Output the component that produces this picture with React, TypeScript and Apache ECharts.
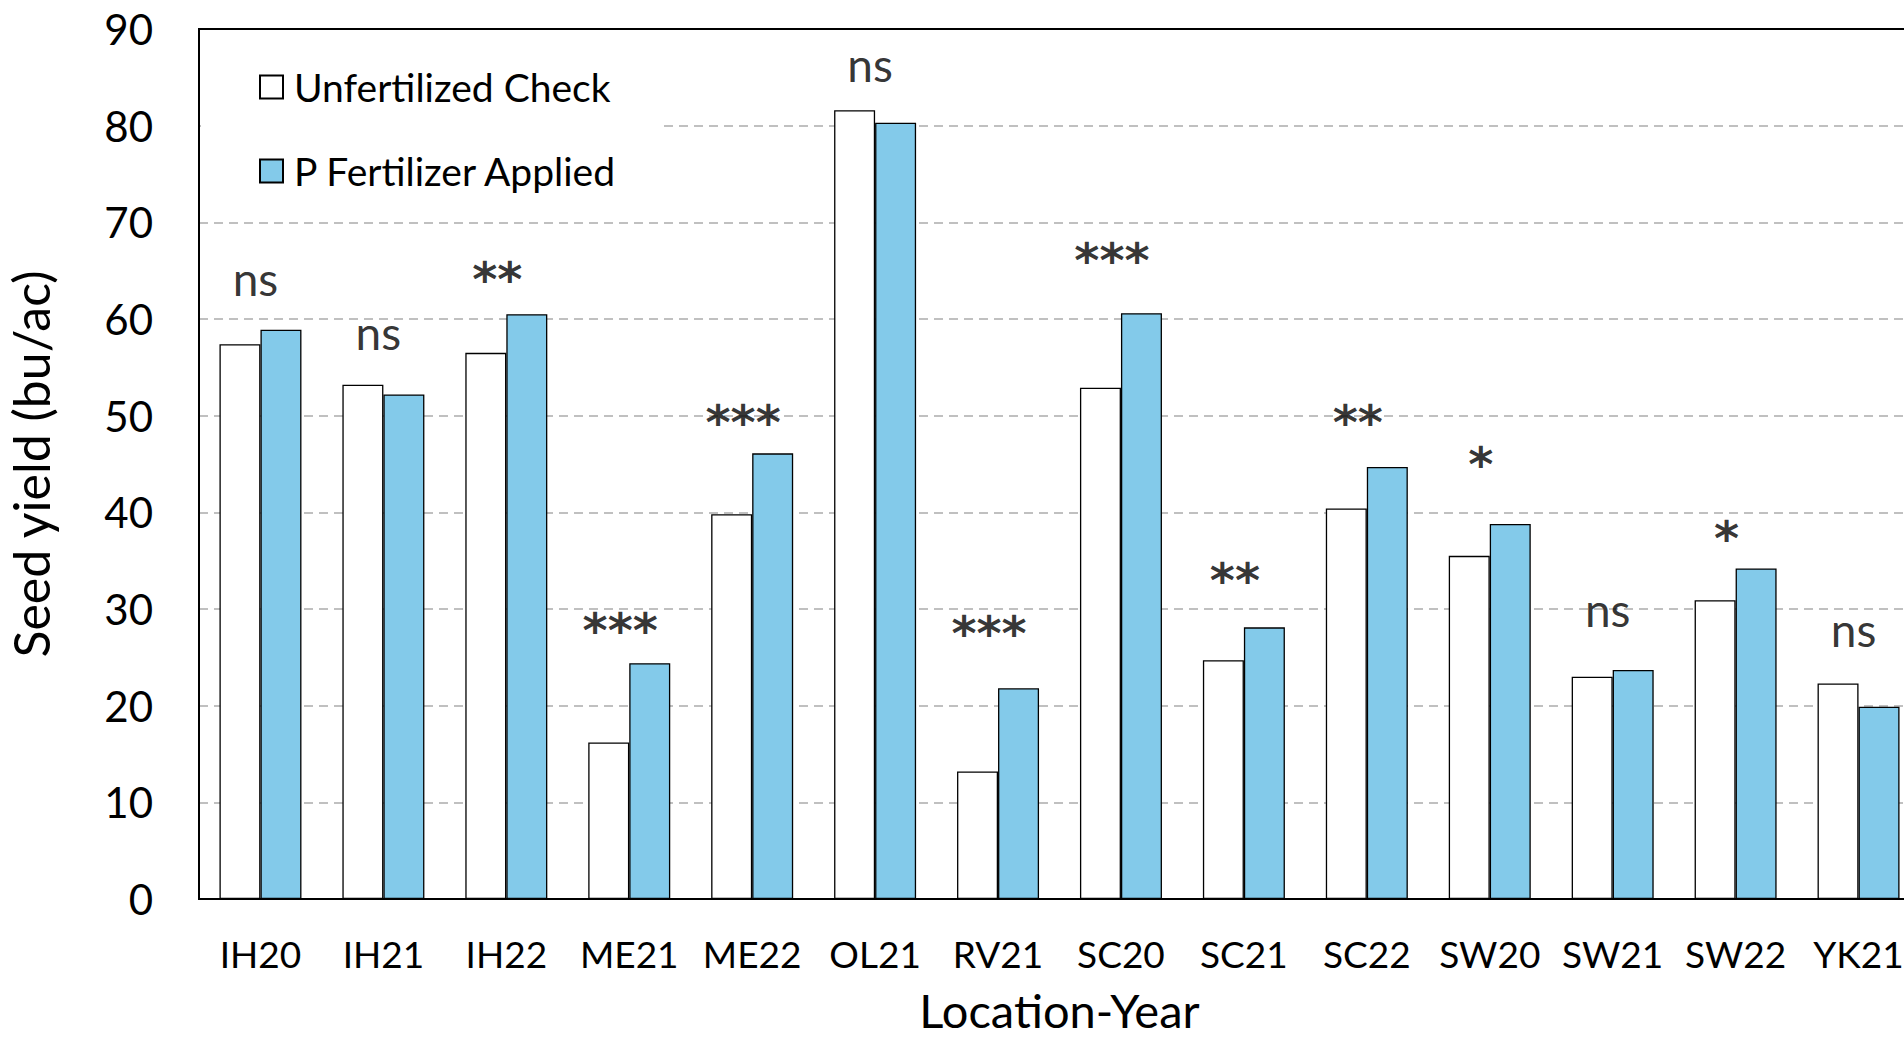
import React, { useEffect, useRef } from "react";
import * as echarts from "echarts";

const categories = ["IH20", "IH21", "IH22", "ME21", "ME22", "OL21", "RV21", "SC20", "SC21", "SC22", "SW20", "SW21", "SW22", "YK21"];
const unfertilized = [57.4, 53.2, 56.5, 16.2, 39.8, 81.6, 13.2, 52.9, 24.7, 40.4, 35.5, 23.0, 30.9, 22.3];
const pApplied = [58.9, 52.2, 60.5, 24.4, 46.1, 80.3, 21.8, 60.6, 28.1, 44.7, 38.8, 23.7, 34.2, 19.9];
const significance = ["ns", "ns", "**", "***", "***", "ns", "***", "***", "**", "**", "*", "ns", "*", "ns"];
const significanceY = [63.5, 57.9, 64.8, 28.4, 50.0, 85.6, 28.1, 66.7, 33.6, 50.0, 45.6, 29.2, 38.0, 27.2];
const seriesNames = ["Unfertilized Check", "P Fertilizer Applied"];
const yMin = 0;
const yMax = 90;
const yStep = 10;

const FONT = "Lato, 'Noto Sans', sans-serif";
const STAR_FONT = "'DejaVu Sans', sans-serif";

export default function App() {
  const ref = useRef<HTMLDivElement>(null);
  useEffect(() => {
    if (!ref.current) return;
    const chart = echarts.init(ref.current, undefined, { renderer: "svg" });
    const annotationData = categories.map((c, i) => {
      const isStar = significance[i].startsWith("*");
      return {
        value: [c, significanceY[i]],
        label: isStar
          ? { formatter: significance[i], fontFamily: STAR_FONT, fontWeight: "bold", fontSize: 48, offset: [-9, 6] }
          : { formatter: significance[i], fontFamily: FONT, fontSize: 46, offset: [-5, -7] },
      };
    });
    chart.setOption({
      animation: false,
      backgroundColor: "#ffffff",
      textStyle: { fontFamily: FONT },
      grid: {
        left: 199,
        top: 29,
        bottom: 141,
        right: -16,
        outerBoundsMode: "none",
        containLabel: false,
        show: true,
        borderColor: "#000",
        borderWidth: 2,
        backgroundColor: "transparent",
      },
      legend: {
        show: true,
        orient: "vertical",
        left: 201,
        top: 44,
        padding: [20, 43, 12, 58],
        backgroundColor: "#ffffff",
        data: seriesNames,
        itemWidth: 23,
        itemHeight: 23,
        itemGap: 38,
        icon: "rect",
        selectedMode: false,
        textStyle: { fontFamily: FONT, fontSize: 39, color: "#000", lineHeight: 46, padding: [0, 0, 0, 6] },
      },
      xAxis: {
        type: "category",
        data: categories,
        name: "Location-Year",
        nameLocation: "middle",
        nameGap: 92,
        nameTextStyle: { fontFamily: FONT, fontSize: 47, lineHeight: 38, color: "#000" },
        axisLine: { show: true, lineStyle: { color: "#000", width: 2 } },
        axisTick: { show: false },
        axisLabel: { fontFamily: FONT, fontSize: 37, color: "#000", margin: 36, interval: 0 },
      },
      yAxis: {
        type: "value",
        min: yMin,
        max: yMax,
        interval: yStep,
        name: "Seed yield (bu/ac)",
        nameLocation: "middle",
        nameRotate: 90,
        nameGap: 143,
        nameTextStyle: { fontFamily: FONT, fontSize: 50, color: "#000" },
        axisLine: { show: true, lineStyle: { color: "#000", width: 2 } },
        axisTick: { show: false },
        axisLabel: { fontFamily: FONT, fontSize: 42, color: "#000", margin: 46 },
        splitLine: {
          show: true,
          showMinLine: false,
          showMaxLine: false,
          lineStyle: { color: "#c0c0c0", width: 2, type: [9, 6] },
        },
      },
      series: [
        {
          name: seriesNames[0],
          type: "bar",
          data: unfertilized,
          barWidth: 41,
          barGap: "0%",
          itemStyle: { color: "#ffffff", borderColor: "#000", borderWidth: 1.3 },
        },
        {
          name: seriesNames[1],
          type: "bar",
          data: pApplied,
          barWidth: 41,
          barGap: "0%",
          itemStyle: { color: "#83caea", borderColor: "#000", borderWidth: 1.3 },
        },
        {
          name: "significance",
          type: "scatter",
          data: annotationData,
          symbolSize: 1,
          itemStyle: { color: "transparent" },
          silent: true,
          z: 5,
          label: {
            show: true,
            position: "inside",
            fontFamily: FONT,
            fontSize: 46,
            color: "#000",
          },
        },
      ],
    });
    return () => chart.dispose();
  }, []);
  return (
    <div
      ref={ref}
      style={{ position: "fixed", left: 0, top: 0, width: 1904, height: 1040, background: "#fff" }}
    />
  );
}
